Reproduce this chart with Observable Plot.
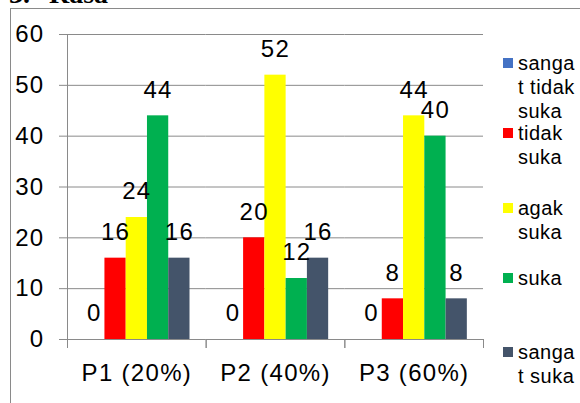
<!DOCTYPE html>
<html><head><meta charset="utf-8">
<script src="https://cdn.jsdelivr.net/npm/d3@7"></script>
<script src="https://cdn.jsdelivr.net/npm/@observablehq/plot@0.6"></script>
<style>
body{margin:0;background:#fff;}
#wrap{position:relative;width:580px;height:403px;overflow:hidden;font-family:"Liberation Sans",Arial,sans-serif;}
#title{position:absolute;left:9px;top:-20px;font:bold 28px/28px "Liberation Serif","Times New Roman",serif;white-space:pre;color:#000;}
#title .w{margin-left:12px;}
#border{position:absolute;left:10px;top:8px;width:600px;height:420px;border:1px solid #8a8a8a;box-sizing:border-box;}
#chart{position:absolute;left:0;top:0;}
.leg{position:absolute;left:503px;font-size:20px;line-height:24px;letter-spacing:0.5px;color:#000;white-space:nowrap;}
.sw{position:absolute;left:0;top:7px;width:10px;height:10px;}
.lt{margin-left:15px;}
</style>
</head><body>
<div id="wrap">
  <div id="title">3. <span class="w">Rasa</span></div>
  <div id="border"></div>
  <div id="chart"></div>
  <div id="legend"></div>
</div>
<script>
const groups = ["P1 (20%)", "P2 (40%)", "P3 (60%)"];
const seriesNames = ["sangat tidak suka", "tidak suka", "agak suka", "suka", "sangat suka"];
const legendLines = [["sanga", "t tidak", "suka"], ["tidak", "suka"], ["agak", "suka"], ["suka"], ["sanga", "t suka"]];
const colors = ["#4472C4", "#FF0000", "#FFFF00", "#00B050", "#44546A"];
const sangatTidakSuka = [0, 0, 0];
const tidakSuka = [16, 20, 8];
const agakSuka = [24, 52, 44];
const suka = [44, 12, 40];
const sangatSuka = [16, 16, 8];
const yTicks = [0, 10, 20, 30, 40, 50, 60];

const seriesValues = [sangatTidakSuka, tidakSuka, agakSuka, suka, sangatSuka];
const rows = [];
groups.forEach((g, gi) => {
  seriesNames.forEach((s, si) => rows.push({group: g, series: s, value: seriesValues[si][gi]}));
});

const gridColor = "#8a8a8a";
const chart = Plot.plot({
  width: 580,
  height: 403,
  marginTop: 34,
  marginBottom: 64,
  marginLeft: 67,
  marginRight: 97,
  style: {fontFamily: '"Liberation Sans", Arial, sans-serif', fontSize: "24px", letterSpacing: "1.3px", color: "#000", background: "transparent"},
  fx: {domain: groups, padding: 0, label: null, axis: null, round: false},
  x: {domain: seriesNames, paddingInner: 0, paddingOuter: 0.76, round: false, axis: null},
  y: {domain: [0, 60], axis: null},
  color: {domain: seriesNames, range: colors},
  marks: [
    Plot.ruleY(yTicks, {stroke: gridColor, strokeWidth: 1}),
    Plot.axisY({ticks: yTicks, tickSize: 8, tickPadding: 15, fontSize: 24, stroke: gridColor, label: null, tickFormat: d => String(d)}),
    Plot.frame({anchor: "left", facet: "super", stroke: gridColor, insetBottom: -8}),
    Plot.frame({anchor: "left", stroke: gridColor, insetTop: 305, insetBottom: -8}),
    Plot.frame({anchor: "right", stroke: gridColor, insetTop: 305, insetBottom: -8}),
    Plot.axisFx({anchor: "bottom", tickSize: 0, tickPadding: 24, fontSize: 24, label: null}),
    Plot.barY(rows, {fx: "group", x: "series", y: "value", fill: "series"}),
    Plot.text(rows, {fx: "group", x: "series", y: "value", text: d => String(d.value), dy: -26, fontSize: 24, fill: "#000"})
  ]
});
document.getElementById("chart").appendChild(chart);

const legendTops = [51, 121, 196, 266, 340];
const legend = document.getElementById("legend");
seriesNames.forEach((s, i) => {
  const div = document.createElement("div");
  div.className = "leg";
  div.style.top = legendTops[i] + "px";
  const sw = document.createElement("span");
  sw.className = "sw";
  sw.style.background = colors[i];
  div.appendChild(sw);
  const lt = document.createElement("div");
  lt.className = "lt";
  lt.innerHTML = legendLines[i].join("<br>");
  div.appendChild(lt);
  legend.appendChild(div);
});
</script>
</body></html>
